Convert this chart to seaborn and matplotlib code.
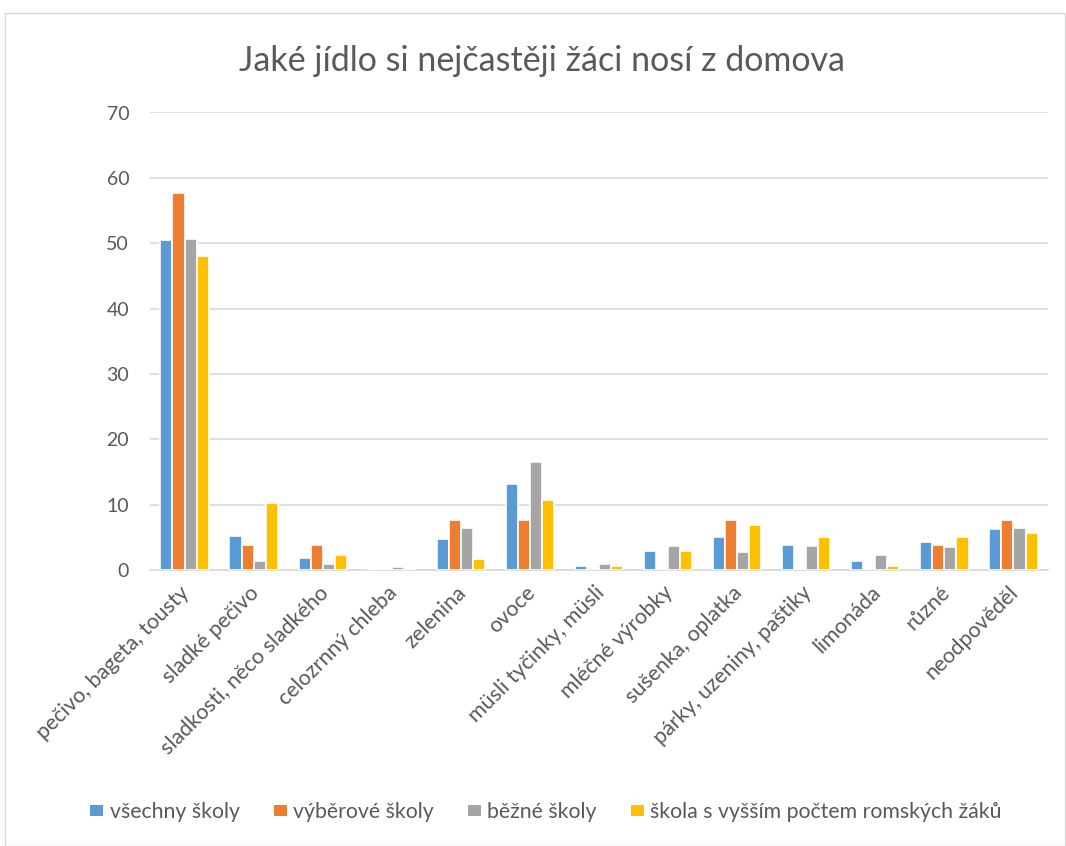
import numpy as np
import pandas as pd
import matplotlib
matplotlib.use("Agg")
import matplotlib.pyplot as plt
import matplotlib.transforms as mtransforms
import seaborn as sns
from matplotlib.patches import Rectangle

categories = ["pečivo, bageta, tousty", "sladké pečivo", "sladkosti, něco sladkého",
              "celozrnný chleba", "zelenina", "ovoce", "müsli tyčinky, müsli",
              "mléčné výrobky", "sušenka, oplatka", "párky, uzeniny, paštiky",
              "limonáda", "různé", "neodpověděl"]
series_names = ["všechny školy", "výběrové školy", "běžné školy",
                "škola s vyšším počtem romských žáků"]
vsechny = [50.5, 5.2, 1.8, 0.15, 4.7, 13.2, 0.65, 2.85, 5.0, 3.75, 1.35, 4.25, 6.2]
vyberove = [57.7, 3.8, 3.8, 0.0, 7.7, 7.7, 0.0, 0.0, 7.7, 0.0, 0.0, 3.8, 7.7]
bezne = [50.7, 1.35, 0.9, 0.4, 6.45, 16.6, 0.9, 3.6, 2.75, 3.6, 2.25, 3.5, 6.35]
romske = [48.0, 10.3, 2.25, 0.0, 1.65, 10.7, 0.55, 2.85, 6.85, 5.05, 0.55, 5.05, 5.6]
colors = ["#5B9BD5", "#ED7D31", "#A5A5A5", "#FFC000"]
title = "Jaké jídlo si nejčastěji žáci nosí z domova"

rows = []
for name, vals in zip(series_names, [vsechny, vyberove, bezne, romske]):
    for c, v in zip(categories, vals):
        rows.append({"kat": c, "serie": name, "hodnota": v})
df = pd.DataFrame(rows)

sns.set_theme(style="white")
plt.rcParams["font.family"] = ["Lato", "DejaVu Sans"]
text_color = "#595959"

fig = plt.figure(figsize=(10.66, 8.46), dpi=100)
fig.patches.append(Rectangle((5/1066, 0), 1 - 5/1066 - 0.001, 1 - 13/846,
                             transform=fig.transFigure, fill=False,
                             edgecolor="#d9d9d9", linewidth=1))
ax = fig.add_axes([150/1066, 1 - 570/846, (1048 - 150)/1066, (570 - 112.5)/846])

sns.barplot(data=df, x="kat", y="hodnota", hue="serie", order=categories,
            hue_order=series_names, palette=colors, saturation=1, width=0.7,
            edgecolor="white", linewidth=1.2, ax=ax, legend=True, zorder=3)

ax.set_ylim(0, 70)
ax.set_yticks(range(0, 71, 10))
ax.set_xlim(-0.5, len(categories) - 0.5)
ax.grid(axis="y", color="#d9d9d9", linewidth=1.2, zorder=0)
ax.set_axisbelow(True)
for s in ["top", "right", "left"]:
    ax.spines[s].set_visible(False)
ax.spines["bottom"].set_color("#d9d9d9")
ax.spines["bottom"].set_linewidth(1.2)
ax.tick_params(axis="both", length=0, colors=text_color)
ax.tick_params(axis="y", pad=15, labelsize=14)
ax.tick_params(axis="x", pad=9, labelsize=15.5)
ax.set_xlabel("")
ax.set_ylabel("")
shift = mtransforms.ScaledTranslation(-5/100, 0, fig.dpi_scale_trans)
for lab in ax.get_xticklabels():
    lab.set_rotation(45)
    lab.set_ha("right")
    lab.set_rotation_mode("anchor")
    lab.set_transform(lab.get_transform() + shift)

handles, labels = ax.get_legend_handles_labels()
ax.legend_.remove()
for h in handles:
    h.set_edgecolor("none")
fig.legend(handles, labels, loc="center", bbox_to_anchor=(546/1066, 1 - 812/846),
           ncol=4, frameon=False, fontsize=15.3, labelcolor=text_color,
           handlelength=0.62, handleheight=0.45, handletextpad=0.3, columnspacing=1.6)

fig.text(542/1066, 1 - 61/846, title, ha="center", va="center",
         fontsize=24.5, color=text_color)

fig.savefig("out.png", dpi=100)
